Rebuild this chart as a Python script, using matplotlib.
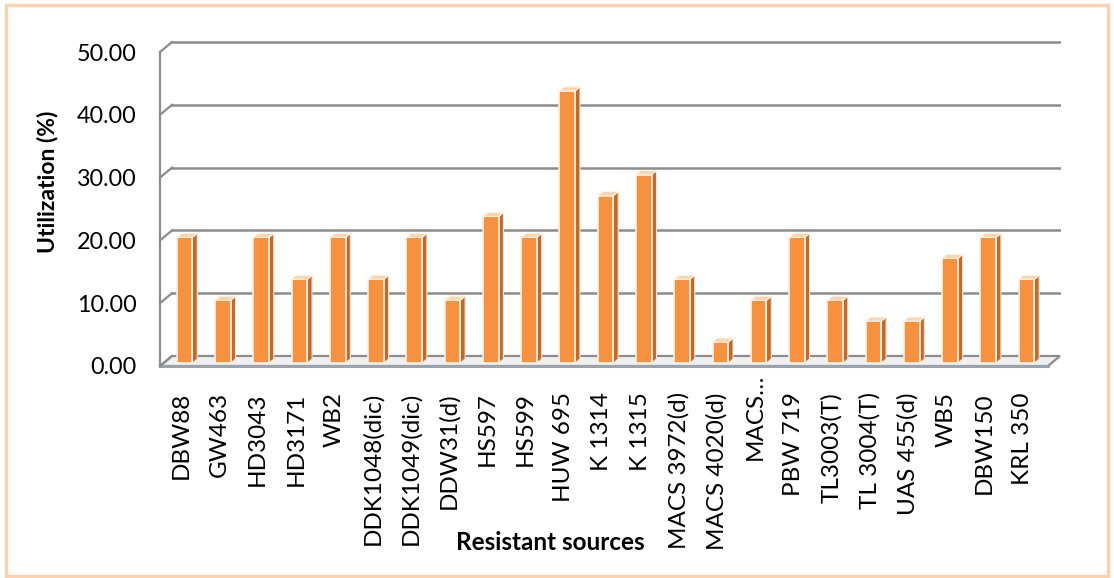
import matplotlib.pyplot as plt
from matplotlib.patches import Polygon, Rectangle

sources = ['DBW88', 'GW463', 'HD3043', 'HD3171', 'WB2', 'DDK1048(dic)',
           'DDK1049(dic)', 'DDW31(d)', 'HS597', 'HS599', 'HUW 695', 'K 1314',
           'K 1315', 'MACS 3972(d)', 'MACS 4020(d)', 'MACS…', 'PBW 719',
           'TL3003(T)', 'TL 3004(T)', 'UAS 455(d)', 'WB5', 'DBW150', 'KRL 350']
utilization = [20.00, 10.00, 20.00, 13.33, 20.00, 13.33, 20.00, 10.00, 23.33,
               20.00, 43.33, 26.67, 30.00, 13.33, 3.33, 10.00, 20.00, 10.00,
               6.67, 6.67, 16.67, 20.00, 13.33]
y_ticks = [0, 10, 20, 30, 40, 50]

plt.rcParams['font.family'] = ['Lato', 'DejaVu Sans']

W, H = 1114, 578
fig = plt.figure(figsize=(W / 100, H / 100), dpi=100)

# front plane: category i -> px 181 + 38.27 i ; value v -> px 366 - 6.28 v
xs, x0 = 38.27, 181
ys, y0 = 6.28, 366
xlim = (-0.65, 23.0)
ylim = (-0.5, 52)
left = x0 + xs * xlim[0]
right = x0 + xs * xlim[1]
top = y0 - ys * ylim[1]
bot = y0 - ys * ylim[0]
ax = fig.add_axes([left / W, 1 - bot / H, (right - left) / W, (bot - top) / H])
ax.set_xlim(*xlim)
ax.set_ylim(*ylim)
for s in ax.spines.values():
    s.set_visible(False)
ax.patch.set_alpha(0)

# depth of the box in data units
dx = 12 / xs
dy = 10 / ys
xl = (160 - x0) / xs
xr = (1048 - x0) / xs
grid = '#8c8c8c'

# floor
floor = Polygon([(xl, 0), (xr, 0), (xr + dx, dy), (xl + dx, dy)],
                closed=True, facecolor='#f0f0f0', edgecolor=grid, lw=1.6, zorder=1)
ax.add_patch(floor)
ax.plot([xl, xr], [0, 0], color='#9aa3ad', lw=2.2, zorder=1.5)

# back wall gridlines and left wall stubs
for v in y_ticks:
    if v > 0:
        ax.plot([xl + dx, xr + dx], [v + dy, v + dy], color=grid, lw=1.8, zorder=2)
    ax.plot([xl, xl + dx], [v, v + dy], color=grid, lw=1.6, zorder=2)
ax.plot([xl, xl], [0, 50], color=grid, lw=1.6, zorder=2)

# 3d-looking bars
w = 0.41
f0, f1 = 0.3, 0.7
ox, oy = f0 * dx, f0 * dy
ddx, ddy = (f1 - f0) * dx, (f1 - f0) * dy
for i, v in enumerate(utilization):
    xa = i - w / 2 + ox
    xb = i + w / 2 + ox
    b = oy
    t = v + oy
    side = Polygon([(xb, b), (xb + ddx, b + ddy), (xb + ddx, t + ddy), (xb, t)],
                   closed=True, facecolor='#c06a2c', edgecolor='#f6e3d2', lw=0.8, zorder=4)
    cap = Polygon([(xa, t), (xb, t), (xb + ddx, t + ddy), (xa + ddx, t + ddy)],
                  closed=True, facecolor='#fbd3ad', edgecolor='#fff4ea', lw=0.8, zorder=5)
    ax.add_patch(side)
    ax.add_patch(cap)
ax.bar([i + ox for i in range(len(utilization))], utilization, width=w, bottom=oy,
       color='#f5913f', edgecolor='#fff0e0', linewidth=1.2, zorder=4.5)

# axis labels
ax.set_yticks(y_ticks, ['%.2f' % v for v in y_ticks])
ax.tick_params(axis='y', length=0, pad=14, labelsize=16.8)
ax.set_xticks([])
for i, name in enumerate(sources):
    off = -4 if name.endswith('…') else -23
    ax.annotate(name, xy=(i, ylim[0]), xycoords='data', xytext=(0, off),
                textcoords='offset pixels', rotation=90, ha='center', va='top',
                fontsize=17.5)

fig.text(47 / W, 1 - 182 / H, 'Utilization (%)', rotation=90, ha='center', va='center',
         fontsize=16.5, fontweight='bold')
fig.text(550 / W, 1 - 543 / H, 'Resistant sources', ha='center', va='center',
         fontsize=17.5, fontweight='bold')

# chart border
fig.patches.append(Rectangle((6 / W, 2 / H), (W - 12) / W, (H - 7) / H,
                             transform=fig.transFigure, fill=False,
                             edgecolor='#fbd2b0', lw=2.5))

fig.savefig('out.png', dpi=100)
